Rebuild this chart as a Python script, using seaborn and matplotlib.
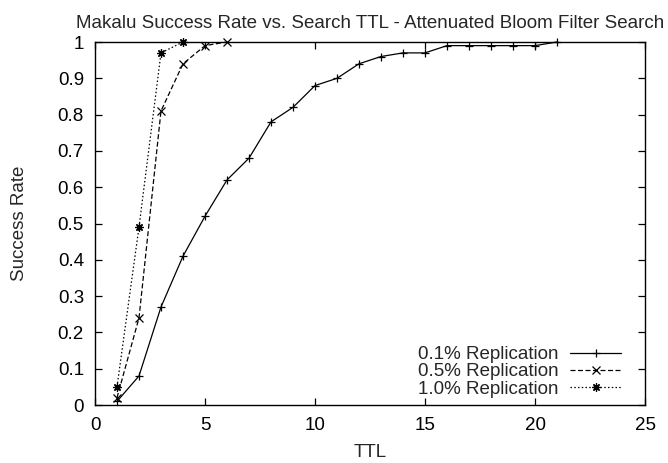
import matplotlib
matplotlib.use("Agg")
import matplotlib.pyplot as plt
import seaborn as sns
import pandas as pd

ttl_01 = list(range(1, 22))
rate_01 = [0.01, 0.08, 0.27, 0.41, 0.52, 0.62, 0.68, 0.78, 0.82, 0.88, 0.90,
           0.94, 0.96, 0.97, 0.97, 0.99, 0.99, 0.99, 0.99, 0.99, 1.0]
ttl_05 = [1, 2, 3, 4, 5, 6]
rate_05 = [0.02, 0.24, 0.81, 0.94, 0.99, 1.0]
ttl_10 = [1, 2, 3, 4]
rate_10 = [0.05, 0.49, 0.97, 1.0]
labels = ["0.1% Replication", "0.5% Replication", "1.0% Replication"]
x_ticks = [0, 5, 10, 15, 20, 25]
y_ticks = [0, 0.1, 0.2, 0.3, 0.4, 0.5, 0.6, 0.7, 0.8, 0.9, 1]
y_tick_labels = ["0", "0.1", "0.2", "0.3", "0.4", "0.5", "0.6", "0.7", "0.8", "0.9", "1"]

sns.set_theme(style="ticks")
plt.rcParams['font.family'] = ['Liberation Sans', 'DejaVu Sans']
FS = 13.5
plt.rcParams['font.size'] = FS

fig = plt.figure(figsize=(6.68, 4.63), dpi=100)
ax = fig.add_axes([95/668, 1-405/463, 550/668, 363/463])

styles = [
    (ttl_01, rate_01, labels[0], '-', '+'),
    (ttl_05, rate_05, labels[1], (0, (4, 2)), 'x'),
    (ttl_10, rate_10, labels[2], (0, (1.2, 1.8)), (8, 2, 0)),
]
for xs, ys, lab, ls, mk in styles:
    df = pd.DataFrame({"TTL": xs, "rate": ys})
    sns.lineplot(data=df, x="TTL", y="rate", ax=ax, color="black", linewidth=0.9,
                 linestyle=ls, marker=mk, markersize=6, markeredgewidth=0.9,
                 markeredgecolor="black", label=lab, clip_on=False)

ax.set_xlim(0, 25)
ax.set_ylim(0, 1)
ax.set_xticks(x_ticks)
ax.set_xticklabels([str(t) for t in x_ticks])
ax.set_yticks(y_ticks)
ax.set_yticklabels(y_tick_labels)
ax.tick_params(direction='in', top=True, right=True, length=5, width=0.9,
               labelsize=FS, colors='black')
ax.tick_params(axis='x', pad=9)
ax.tick_params(axis='y', pad=8)
for s in ax.spines.values():
    s.set_linewidth(1.0)
    s.set_color('black')
ax.set_xlabel("TTL", fontsize=FS, labelpad=7)
ax.set_ylabel("Success Rate", fontsize=FS, labelpad=21)
ax.set_title("Makalu Success Rate vs. Search TTL - Attenuated Bloom Filter Search",
             fontsize=FS, pad=10)

leg = ax.legend(loc='lower right', frameon=False, markerfirst=False,
                handlelength=2.7, labelspacing=0.0, handletextpad=0.65,
                borderaxespad=0.0, fontsize=FS, bbox_to_anchor=(0.97, 0.0))
fig.savefig("out.png", dpi=100)
